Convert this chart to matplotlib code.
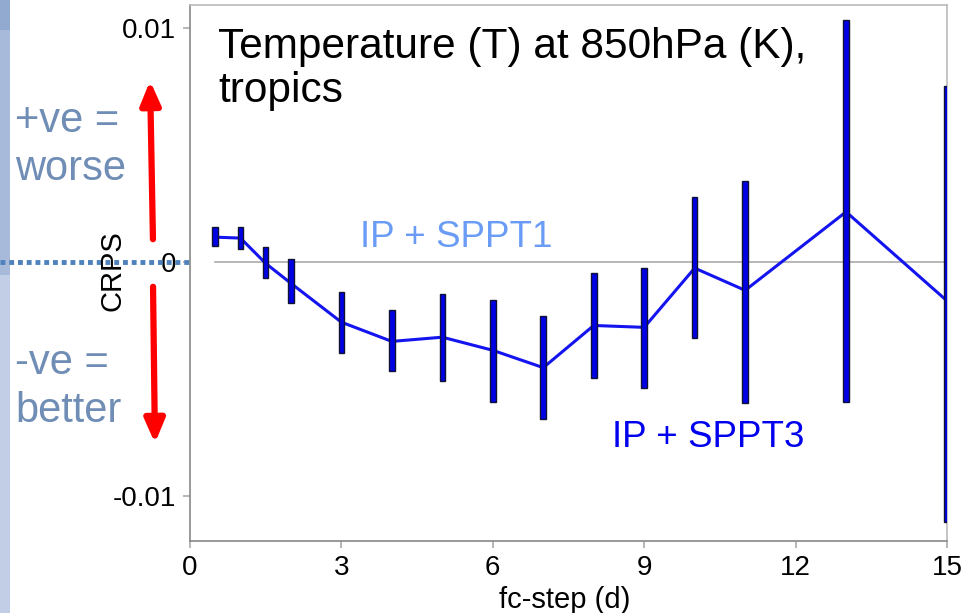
import matplotlib
matplotlib.use("Agg")
import matplotlib.pyplot as plt
from matplotlib.patches import Rectangle, FancyArrowPatch
from matplotlib.lines import Line2D

plt.rcParams['font.family'] = ['Liberation Sans', 'DejaVu Sans']

# ---- data ----
fc_step = [0.5, 1, 1.5, 2, 3, 4, 5, 6, 7, 8, 9, 10, 11, 13, 15]
crps_mean = [0.00107, 0.00103, -0.00005, -0.0009, -0.00256, -0.00338, -0.0032, -0.00376,
             -0.0045, -0.00270, -0.00278, -0.00025, -0.00120, 0.00215, -0.00165]
crps_upper = [0.0015, 0.0015, 0.00064, 0.00013, -0.00128, -0.00205, -0.00137, -0.00162,
              -0.00231, -0.00045, -0.00026, 0.00278, 0.00346, 0.01034, 0.00752]
crps_lower = [0.0007, 0.00055, -0.00068, -0.00175, -0.00389, -0.00466, -0.00509, -0.00598,
              -0.00671, -0.00495, -0.00535, -0.00325, -0.00600, -0.00595, -0.01110]
xticks = [0, 3, 6, 9, 12, 15]
yticks = [-0.01, 0, 0.01]
ytick_labels = ['-0.01', '0', '0.01']

W, H = 966, 613
fig = plt.figure(figsize=(W / 100, H / 100), dpi=100)
fig.patch.set_facecolor('white')

# left slide strip
fig.patches.append(Rectangle((0, 1 - 30 / H), 10 / W, 30 / H, transform=fig.transFigure,
                             facecolor='#92aacf', edgecolor='none'))
fig.patches.append(Rectangle((0, 1 - 275 / H), 10 / W, 245 / H, transform=fig.transFigure,
                             facecolor='#a8bada', edgecolor='none'))
fig.patches.append(Rectangle((0, 0), 10 / W, 1 - 275 / H, transform=fig.transFigure,
                             facecolor='#c2cde6', edgecolor='none'))

ax = fig.add_axes([190 / W, 1 - 541 / H, 757 / W, 536 / H])
ax.set_xlim(0, 15)
ax.set_ylim(-0.0119, 0.01098)

# zero reference line
ax.plot([fc_step[0], 15], [0, 0], color='#aaaaaa', lw=1.2, zorder=1)

# error bars as outlined thick bars
heights = [u - l for u, l in zip(crps_upper, crps_lower)]
ax.bar(fc_step, heights, bottom=crps_lower, width=0.11, color='#0000e6',
       edgecolor='#111133', linewidth=1.0, zorder=3)
ax.plot(fc_step, crps_mean, color='#1414f0', lw=2.2, zorder=2)

ax.set_xticks(xticks)
ax.set_xticklabels([str(t) for t in xticks])
ax.set_yticks(yticks)
ax.set_yticklabels(ytick_labels)
ax.tick_params(axis='both', direction='out', length=5, width=1.2, color='#aaaaaa',
               labelsize=20, pad=5)
for side in ['left', 'bottom']:
    ax.spines[side].set_color('#888888')
    ax.spines[side].set_linewidth(1.2)
for side in ['top', 'right']:
    ax.spines[side].set_color('#bbbbbb')
    ax.spines[side].set_linewidth(1.2)

ax.text(28 / 757, 1 - 22 / 536, 'Temperature (T) at 850hPa (K),\ntropics', transform=ax.transAxes,
        fontsize=30.5, va='top', ha='left', color='black', linespacing=1.12)
ax.text(3.37, 0.00107, 'IP + SPPT1', fontsize=26.5, color='#6a9cf5', va='center', ha='left')
ax.text(8.36, -0.00748, 'IP + SPPT3', fontsize=26.5, color='#0000ee', va='center', ha='left')

fig.text(112 / W, 1 - 271 / H, 'CRPS', rotation=90, fontsize=21, va='center', ha='center')
fig.text(565 / W, 1 - 600 / H, 'fc-step (d)', fontsize=21, va='center', ha='center')

# slide annotations
tc = '#6f8db5'
fig.text(15 / W, 1 - 132 / H, '+ve =', fontsize=30, color=tc, va='baseline')
fig.text(15 / W, 1 - 180 / H, 'worse', fontsize=30, color=tc, va='baseline')
fig.text(15 / W, 1 - 374 / H, '-ve =', fontsize=30, color=tc, va='baseline')
fig.text(15 / W, 1 - 422 / H, 'better', fontsize=30, color=tc, va='baseline')

for (x0, y0, x1, y1) in [(153, 242, 150, 78), (153, 284, 155, 446)]:
    arr = FancyArrowPatch((x0 / W, 1 - y0 / H), (x1 / W, 1 - y1 / H), transform=fig.transFigure,
                          arrowstyle='-|>,head_length=14,head_width=6', mutation_scale=1,
                          color='#ff0000', lw=4.5)
    fig.patches.append(arr)

fig.lines.append(Line2D([0, 190 / W], [1 - 262 / H, 1 - 262 / H], transform=fig.transFigure,
                        color='#4f81bd', lw=3.5, linestyle=(0, (1, 0.8))))

fig.savefig('out.png', dpi=100)
